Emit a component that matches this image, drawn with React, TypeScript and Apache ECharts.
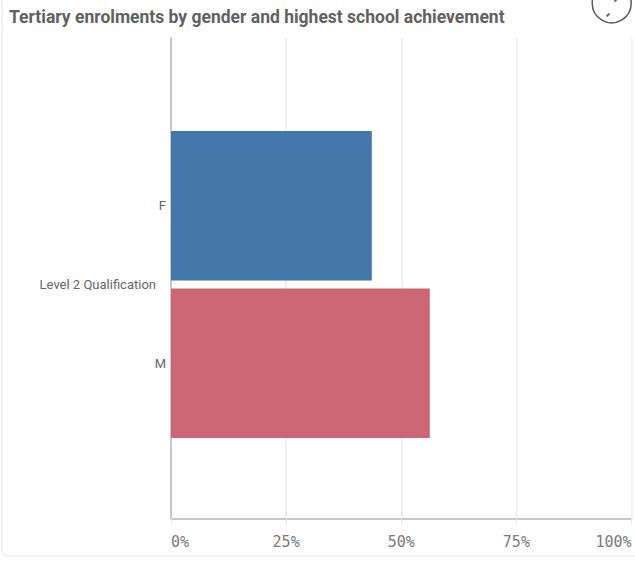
import React, { useEffect, useRef } from "react";
import * as echarts from "echarts";

const title = "Tertiary enrolments by gender and highest school achievement";
const groupLabel = ["Level 2 Qualification"];
const genders = ["F", "M"];
const shares = [43.6, 56.2];
const barColors = ["#4477aa", "#cc6677"];
const xTicks = [0, 25, 50, 75, 100];

export default function App() {
  const ref = useRef<HTMLDivElement>(null);
  useEffect(() => {
    document.body.style.margin = "0";
    const chart = echarts.init(ref.current!, null, { renderer: "svg" });
    const gridL = 171;
    const gridR = 3.5;
    chart.setOption({
      animation: false,
      backgroundColor: "#ffffff",
      title: {
        text: title,
        left: 4,
        top: 3,
        textStyle: { fontFamily: "Roboto", fontWeight: "bold", fontSize: 17.5, color: "#616161" },
      },
      graphic: [
        {
          type: "rect",
          shape: { x: 2, y: -10, width: 640, height: 566, r: 6 },
          style: { fill: "none", stroke: "#e6e6e6", lineWidth: 1 },
          silent: true,
        },
        {
          type: "circle",
          shape: { cx: 611.7, cy: 3.3, r: 19.5 },
          style: { fill: "#ffffff", stroke: "#5a5a5a", lineWidth: 1.5 },
          silent: true,
        },
        {
          type: "line",
          shape: { x1: 606.5, y1: 16.5, x2: 609.5, y2: 13.5 },
          style: { stroke: "#6a6f80", lineWidth: 2 },
          silent: true,
        },
        {
          type: "line",
          shape: { x1: 614.5, y1: 1.5, x2: 617.5, y2: -1.5 },
          style: { stroke: "#6a6f80", lineWidth: 2 },
          silent: true,
        },
      ],
      grid: [
        { left: gridL, right: gridR, top: 38, bottom: 44.7 },
        { left: gridL, right: gridR, top: 127, height: 315 },
      ],
      xAxis: [
        {
          type: "value",
          gridIndex: 0,
          min: xTicks[0],
          max: xTicks[xTicks.length - 1],
          interval: 25,
          axisLine: { show: true, lineStyle: { color: "#c8c8c8", width: 2 } },
          axisTick: { show: true, length: 6, lineStyle: { color: "#e6e6e6" } },
          splitLine: { show: true, lineStyle: { color: "#ebebeb", width: 1.5 } },
          axisLabel: {
            formatter: "{value}%",
            fontFamily: "DejaVu Sans Mono",
            fontSize: 15,
            color: "#7a7a7a",
            margin: 16,
            alignMinLabel: "left",
            alignMaxLabel: "right",
          },
        },
        {
          type: "value",
          gridIndex: 1,
          min: 0,
          max: 100,
          show: false,
        },
      ],
      yAxis: [
        {
          type: "category",
          gridIndex: 0,
          data: [""],
          axisLine: { show: true, lineStyle: { color: "#c8c8c8", width: 2 } },
          axisTick: { show: false },
          axisLabel: { show: false },
        },
        {
          type: "category",
          gridIndex: 1,
          data: genders,
          inverse: true,
          axisLine: { show: false },
          axisTick: { show: false },
          axisLabel: { fontFamily: "Roboto", fontSize: 13, color: "#666666", margin: 5 },
        },
        {
          type: "category",
          gridIndex: 1,
          position: "left",
          offset: 10,
          data: groupLabel,
          axisLine: { show: false },
          axisTick: { show: false },
          axisLabel: { fontFamily: "Roboto", fontSize: 13, color: "#666666", margin: 5 },
        },
      ],
      series: [
        {
          type: "bar",
          xAxisIndex: 1,
          yAxisIndex: 1,
          barCategoryGap: "5%",
          data: shares.map((v, i) => ({ value: v, itemStyle: { color: barColors[i] } })),
        },
      ],
    });
    return () => chart.dispose();
  }, []);
  return <div ref={ref} style={{ width: 635, height: 563, position: "absolute", left: 0, top: 0 }} />;
}
